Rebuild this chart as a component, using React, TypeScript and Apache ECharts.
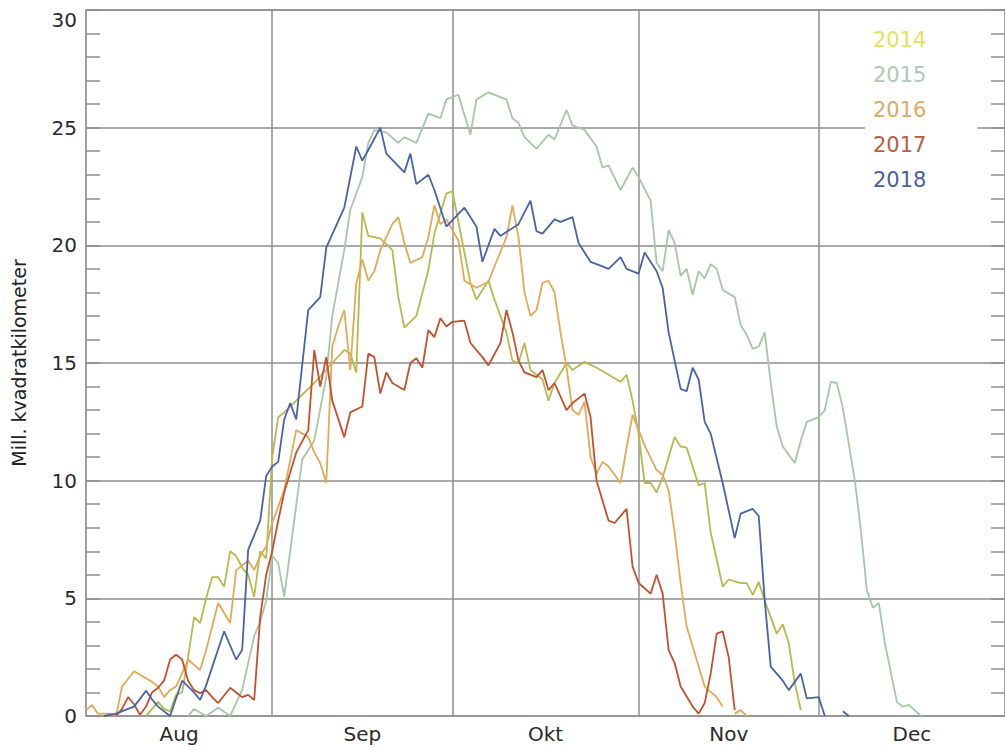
import React, { useEffect, useRef } from 'react';
import * as echarts from 'echarts';

// X axis: day index counted from 1 August (0 = Aug 1), months shown as bands
const MONTHS = ['Aug', 'Sep', 'Okt', 'Nov', 'Dec'];
const MONTH_LENGTHS = [31, 30, 31, 30, 31];

// Y axis
const Y_MIN = 0;
const Y_MAX = 30;
const Y_STEP = 5;
const Y_NAME = 'Mill. kvadratkilometer';

const YEARS = ['2014', '2015', '2016', '2017', '2018'];

// [day since Aug 1, area in million km²]
const S2014: [number, number | null][] = [
  [10, 0], [11, 0.3], [12, 0.6], [13, 0.3], [14, 0.2], [15, 0.9], [16, 1.0], [17, 2.5], [18, 4.2], [19, 3.95],
  [20, 5.0], [21, 5.9], [22, 5.9], [23, 5.5], [24, 7.0], [25, 6.8], [26, 6.3], [27, 6.0], [28, 5.07], [29, 7.0],
  [30, 6.7], [31, 11.0], [32, 12.7], [33, 12.9], [35, 13.4], [38, 14.15], [41, 15.0], [43, 15.55], [44, 15.4],
  [45, 14.6], [46, 21.4], [47, 20.4], [49, 20.3], [51, 19.8], [52, 17.8], [53, 16.5], [55, 17.0], [57, 18.95],
  [58, 20.5], [60, 22.2], [61, 22.3], [63, 19.7], [64, 18.4], [65, 17.7], [67, 18.5], [68, 17.7], [70, 16.3],
  [71, 15.1], [72, 15.0], [73, 15.85], [74, 14.7], [76, 14.3], [77, 13.4], [78, 14.15], [80, 15.0], [81, 14.7],
  [83, 15.05], [85, 14.8], [87, 14.5], [89, 14.2], [90, 14.5], [91, 13.4], [92, 12.0], [93, 9.9], [94, 9.9],
  [95, 9.5], [96, 10.15], [98, 11.85], [99, 11.45], [100, 11.4], [101, 10.6], [102, 9.8], [103, 9.9], [104, 7.8],
  [106, 5.5], [107, 5.8], [109, 5.65], [110, 5.65], [111, 5.15], [112, 5.7], [113, 4.9], [114, 4.2], [115, 3.5],
  [116, 3.9], [117, 3.1], [118, 1.4], [119, 0.25],
];

const S2015: [number, number | null][] = [
  [17, 0], [18, 0.3], [20, 0], [22, 0.35], [24, 0], [26, 1.1], [28, 3.4], [29, 4.0], [30, 4.9], [31, 6.8],
  [32, 6.5], [33, 5.07], [36, 10.9], [38, 11.7], [40, 14.4], [41, 17.0], [43, 19.8], [44, 21.5], [46, 22.9],
  [47, 24.35], [48, 24.9], [50, 24.8], [52, 24.35], [53, 24.6], [55, 24.35], [57, 25.6], [59, 25.4], [60, 26.2],
  [62, 26.4], [64, 24.7], [65, 26.2], [67, 26.5], [69, 26.3], [70, 26.2], [71, 25.4], [72, 25.2], [73, 24.6],
  [75, 24.1], [77, 24.7], [78, 24.5], [80, 25.75], [81, 25.1], [83, 24.9], [85, 24.2], [86, 23.3], [87, 23.4],
  [89, 22.35], [91, 23.3], [92, 22.9], [94, 21.9], [95, 19.25], [96, 18.9], [97, 20.65], [98, 20.1], [99, 18.7],
  [100, 19.0], [101, 17.9], [102, 18.9], [103, 18.6], [104, 19.2], [105, 19.0], [106, 18.1], [108, 17.8],
  [109, 16.6], [110, 16.2], [111, 15.6], [112, 15.7], [113, 16.3], [114, 14.15], [115, 12.3], [116, 11.45],
  [118, 10.75], [119, 11.7], [120, 12.5], [122, 12.7], [123, 13.0], [124, 14.2], [125, 14.15], [126, 13.1],
  [128, 10.0], [129, 7.9], [130, 5.35], [131, 4.6], [132, 4.8], [133, 3.1], [135, 0.6], [136, 0.4], [137, 0.47],
  [139, 0],
];

const S2016: [number, number | null][] = [
  [0, 0.25], [1, 0.47], [2, 0.1], [4, 0.1], [5, 0], [6, 1.25], [8, 1.9], [9, 1.75], [11, 1.45], [12, 1.25],
  [13, 0.8], [14, 1.1], [15, 1.25], [17, 2.4], [19, 1.95], [20, 2.8], [22, 4.8], [24, 3.95], [25, 6.2], [27, 6.6],
  [28, 6.2], [29, 6.8], [30, 7.2], [31, 8.2], [33, 9.6], [35, 12.15], [37, 11.85], [38, 11.2], [39, 10.75],
  [40, 9.9], [41, 15.7], [42, 16.55], [43, 17.25], [44, 14.7], [45, 18.4], [46, 19.4], [47, 18.5], [48, 18.9],
  [49, 19.8], [51, 20.9], [52, 21.2], [53, 20.1], [54, 19.25], [56, 19.5], [57, 20.35], [58, 21.7], [59, 20.9],
  [60, 21.1], [62, 20.2], [63, 18.5], [65, 18.2], [67, 18.45], [68, 19.1], [70, 20.35], [71, 21.7], [72, 20.35],
  [73, 18.0], [74, 17.0], [75, 17.25], [76, 18.4], [77, 18.5], [78, 18.0], [79, 16.3], [80, 14.8], [81, 13.0],
  [82, 12.8], [83, 13.35], [84, 11.0], [85, 10.3], [86, 10.8], [87, 10.6], [89, 9.9], [90, 11.4], [91, 12.8],
  [93, 11.5], [95, 10.45], [96, 10.25], [97, 9.6], [98, 7.8], [99, 5.65], [100, 3.8], [102, 2.1], [103, 1.25],
  [105, 0.8], [106, 0.4], [107, null], [108, 0.1], [109, 0.25], [110, 0],
];

const S2017: [number, number | null][] = [
  [5, 0], [6, 0.3], [7, 0.8], [8, 0.5], [9, 0.05], [10, 0.4], [11, 1.0], [12, 1.2], [13, 1.5], [14, 2.4],
  [15, 2.6], [16, 2.4], [17, 1.5], [18, 1.1], [19, 0.97], [20, 1.1], [21, 0.8], [22, 0.55], [24, 1.2], [26, 0.8],
  [27, 0.9], [28, 0.68], [29, 4.2], [30, 6.0], [31, 7.0], [32, 8.3], [33, 9.5], [35, 11.2], [37, 12.15],
  [38, 15.55], [39, 14.0], [40, 15.25], [41, 13.4], [43, 11.85], [44, 12.9], [46, 13.15], [47, 15.4], [48, 15.25],
  [49, 13.7], [50, 14.6], [51, 14.15], [53, 13.85], [54, 15.0], [55, 15.2], [56, 14.8], [57, 16.4], [58, 16.1],
  [59, 16.9], [60, 16.55], [61, 16.75], [63, 16.8], [64, 15.85], [66, 15.25], [67, 14.9], [69, 15.85], [70, 17.25],
  [71, 16.3], [72, 15.1], [73, 14.6], [75, 14.4], [76, 14.7], [77, 13.85], [78, 14.15], [80, 13.0], [81, 13.3],
  [83, 13.7], [84, 12.7], [85, 10.0], [87, 8.3], [88, 8.2], [90, 8.8], [91, 6.35], [92, 5.65], [94, 5.2], [95, 6.0],
  [96, 5.2], [97, 2.8], [98, 2.25], [99, 1.25], [101, 0.4], [102, 0.1], [103, 0.55], [104, 1.8], [105, 3.5],
  [106, 3.6], [107, 2.5], [108, 0.25],
];

const S2018: [number, number | null][] = [
  [3, 0], [5, 0.1], [7, 0.3], [8, 0.4], [10, 1.07], [11, 0.7], [12, 0.4], [14, 0], [16, 1.5], [18, 1.0],
  [19, 0.68], [20, 1.3], [23, 3.6], [25, 2.4], [26, 2.8], [27, 7.06], [29, 8.3], [30, 10.2], [31, 10.6],
  [32, 10.8], [33, 12.6], [34, 13.3], [35, 12.6], [37, 17.25], [39, 17.8], [40, 19.9], [43, 21.6], [45, 24.2],
  [46, 23.6], [47, 24.05], [49, 25.0], [50, 23.9], [53, 23.1], [54, 23.9], [55, 22.6], [57, 23.0], [58, 22.35],
  [60, 20.8], [63, 21.6], [65, 20.8], [66, 19.3], [68, 20.7], [69, 20.4], [72, 20.9], [74, 21.9], [75, 20.6],
  [76, 20.5], [78, 21.1], [79, 21.0], [81, 21.2], [82, 20.1], [84, 19.3], [85, 19.2], [87, 19.0], [89, 19.5],
  [90, 19.0], [92, 18.8], [93, 19.7], [95, 18.9], [96, 18.2], [97, 16.3], [99, 13.9], [100, 13.8], [101, 14.8],
  [102, 14.3], [103, 12.5], [104, 12.0], [106, 9.9], [108, 7.56], [109, 8.6], [111, 8.8], [112, 8.5], [113, 4.9],
  [114, 2.1], [116, 1.5], [117, 1.1], [119, 1.8], [120, 0.75], [122, 0.8], [123, 0], [124, null], [126, 0.2],
  [127, 0],
];

const SERIES_DATA = [S2014, S2015, S2016, S2017, S2018];

const LINE_COLORS = ['#b7b94c', '#a6c6a8', '#e2a956', '#c4502f', '#4a62a6'];
const LEGEND_COLORS = ['#e9df62', '#b3c7b6', '#dbab66', '#c15a3e', '#4d5f99'];

export default function App() {
  const ref = useRef<HTMLDivElement>(null);

  useEffect(() => {
    if (!ref.current) return;
    const chart = echarts.init(ref.current, null, { renderer: 'svg' });

    const bounds: number[] = [];
    const centers: number[] = [];
    let acc = 0;
    MONTH_LENGTHS.forEach((len) => {
      centers.push(acc + len / 2);
      acc += len;
      bounds.push(acc);
    });
    const total = acc;
    const innerBounds = bounds.slice(0, -1);

    const gridColor = '#8e8e8e';
    const font = 'DejaVu Sans';

    const option: any = {
      animation: false,
      backgroundColor: '#ffffff',
      textStyle: { fontFamily: font },
      grid: {
        left: 86,
        top: 10,
        bottom: 32,
        right: -7,
        show: true,
        borderColor: '#999999',
        borderWidth: 1.5,
        backgroundColor: 'transparent',
      },
      legend: {
        orient: 'vertical',
        left: 865,
        top: 19,
        padding: [10, 51, 10, 3],
        backgroundColor: '#ffffff',
        icon: 'none',
        itemWidth: 0,
        itemHeight: 21,
        itemGap: 14,
        selectedMode: false,
        textStyle: { fontSize: 21, lineHeight: 21, fontFamily: font },
        data: YEARS.map((y, i) => ({ name: y, textStyle: { color: LEGEND_COLORS[i] } })),
      },
      xAxis: {
        type: 'value',
        min: 0,
        max: total,
        axisLine: { show: true, lineStyle: { color: '#999999', width: 1.5 } },
        axisTick: { show: false, customValues: innerBounds },
        splitLine: { show: true, lineStyle: { color: gridColor, width: 1.5 } },
        axisLabel: {
          customValues: centers,
          formatter: (v: number) => {
            const i = centers.findIndex((c) => Math.abs(c - v) < 0.01);
            return i >= 0 ? MONTHS[i] : '';
          },
          fontSize: 20,
          color: '#2a2a2a',
          margin: 8,
          fontFamily: font,
        },
      },
      yAxis: [
        {
          type: 'value',
          position: 'left',
          min: Y_MIN,
          max: Y_MAX,
          interval: Y_STEP,
          name: Y_NAME,
          nameLocation: 'middle',
          nameGap: 58,
          nameRotate: 90,
          nameTextStyle: { fontSize: 19, color: '#222222', fontFamily: font },
          axisLine: { show: true, lineStyle: { color: '#999999', width: 1.5 } },
          axisTick: { show: true, inside: true, length: 14, lineStyle: { color: gridColor, width: 1.5 } },
          minorTick: { show: true, splitNumber: 5, length: 14, lineStyle: { color: gridColor, width: 1.5 } },
          splitLine: { show: true, lineStyle: { color: gridColor, width: 1.5 } },
          axisLabel: {
            fontSize: 20,
            color: '#2a2a2a',
            margin: 9,
            fontFamily: font,
            verticalAlignMaxLabel: 'top',
          },
        },
        {
          type: 'value',
          position: 'right',
          min: Y_MIN,
          max: Y_MAX,
          interval: Y_STEP,
          axisLine: { show: true, lineStyle: { color: '#999999', width: 1.5 } },
          axisTick: { show: true, inside: true, length: 14, lineStyle: { color: gridColor, width: 1.5 } },
          minorTick: { show: true, splitNumber: 5, length: 14, lineStyle: { color: gridColor, width: 1.5 } },
          splitLine: { show: false },
          axisLabel: { show: false },
        },
      ],
      series: YEARS.map((y, i) => ({
        name: y,
        type: 'line',
        yAxisIndex: 0,
        data: SERIES_DATA[i],
        showSymbol: false,
        symbol: 'none',
        connectNulls: false,
        color: LINE_COLORS[i],
        lineStyle: { color: LINE_COLORS[i], width: 1.8 },
        z: 3 + i,
      })),
    };

    chart.setOption(option);
    return () => chart.dispose();
  }, []);

  return (
    <div
      ref={ref}
      style={{ position: 'fixed', left: 0, top: 0, width: 1005, height: 748, background: '#fff' }}
    />
  );
}
